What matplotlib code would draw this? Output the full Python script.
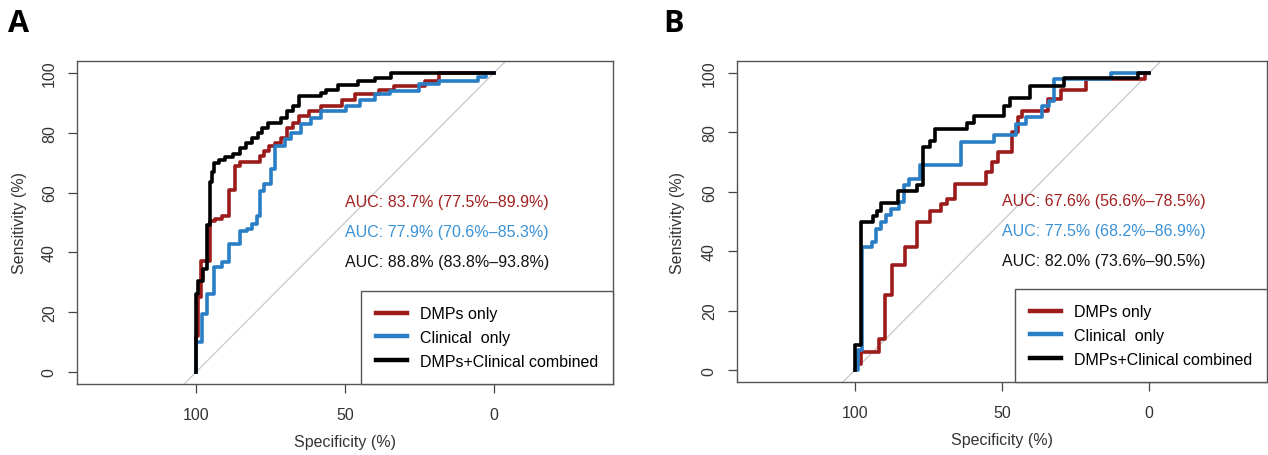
'''ROC curves: DMPs, clinical and combined models (panels A and B).'''
import matplotlib as mpl
mpl.use('Agg')
import matplotlib.pyplot as plt

plt.rcParams['font.family'] = ['Liberation Sans', 'DejaVu Sans']

labels = ['DMPs only', 'Clinical  only', 'DMPs+Clinical combined']
line_colors = ['#9c1b1b', '#2a7ec6', '#000000']
text_colors = ['#a32020', '#3a92d6', '#111111']

# panel A, specificity / sensitivity (%) at each step of the curve
a_dmp_spec = [100, 100, 99.2, 98.2, 95.3, 93.5, 91.3, 88.8, 86.8, 85.1, 78.4, 77.3,
              75.6, 73.6, 71.6, 69.6, 67.5, 65.4, 62, 57.9, 51, 46.8, 38.6, 33.5,
              23, 18.5, 0]
a_dmp_sens = [0, 12, 25, 37, 50.5, 51.2, 52.3, 61, 69, 70.2, 72.2, 73.9,
              75.6, 76.7, 78.3, 81.7, 83.3, 85.6, 87.2, 88.9, 91.1, 92.8, 94.4, 95.8,
              97.4, 100, 100]
a_cli_spec = [100, 100, 98, 96.3, 94, 91.3, 88.8, 85.1, 82.9, 81.2, 79.5, 78.6,
              77.3, 75, 73.6, 70.2, 68.2, 64.7, 61.3, 57.9, 49.6, 44.8, 40, 35,
              25, 18.5, 5.5, 2.8, 0]
a_cli_sens = [0, 10, 19.4, 26, 35, 36.7, 42.8, 47, 47.8, 49.5, 52.3, 60.6,
              62.9, 67.9, 75.7, 77.8, 80, 82.8, 85, 87.2, 88.9, 91.1, 92.8, 93.9,
              96.3, 97.4, 98.6, 100, 100]
a_comb_spec = [100, 100, 99.2, 97.8, 96.4, 95.3, 94.6, 93.9, 92.3, 90.2, 87.5, 85.4,
               83.3, 81.3, 79.2, 77.8, 75.8, 71.6, 69.6, 67.5, 65.4, 57.9, 56.5,
               52.3, 45.5, 39.9, 34.4, 0]
a_comb_sens = [0, 26, 30.5, 34.4, 49, 63.5, 67, 70, 71, 72, 73, 75,
               76.7, 78.3, 80, 81.7, 83.3, 85, 87.2, 88.9, 92.2, 93.3, 94.4,
               96.1, 97.2, 98.3, 100, 100]
a_auc = ['AUC: 83.7% (77.5%\u201389.9%)',
         'AUC: 77.9% (70.6%\u201385.3%)',
         'AUC: 88.8% (83.8%\u201393.8%)']

# panel B
b_dmp_spec = [100, 99.5, 97.9, 91.8, 89.7, 87.5, 83, 78.8, 74.3, 70.7, 68.7, 65.9,
              55.3, 53.5, 51.4, 46.6, 44.5, 43.2, 34.5, 30, 21.5, 1.4, 0]
b_dmp_sens = [0, 2.2, 6.2, 10.6, 25.2, 35.5, 41.4, 50, 53.5, 56, 57.7, 62.7,
              66.6, 70, 73.3, 80, 85.1, 87.3, 91.3, 94.1, 97.8, 100, 100]
b_cli_spec = [100, 99, 97.7, 94, 92.9, 91.2, 89.5, 87.8, 85, 83.3, 81.6, 77.7,
              64, 52.8, 45.2, 41.8, 36.3, 34.2, 32.2, 13, 0]
b_cli_sens = [0, 6.7, 41.4, 43.1, 47.6, 49.8, 52.1, 54.3, 56.6, 62.2, 64.4, 68.9,
              76.9, 79.2, 82.9, 85.1, 89, 90.5, 98, 100, 100]
b_comb_spec = [100, 100, 97.8, 93.8, 92.3, 91.2, 85.3, 78.8, 76.8, 74.6, 72.6, 61.9,
               59.5, 49.3, 47.3, 40.4, 29, 3.7, 0]
b_comb_sens = [0, 8.4, 50, 52, 53.5, 56.3, 60.2, 62.2, 75, 77, 81.2, 83,
               85.4, 89, 91.5, 95.5, 98.2, 100, 100]
b_auc = ['AUC: 67.6% (56.6%\u201378.5%)',
         'AUC: 77.5% (68.2%\u201386.9%)',
         'AUC: 82.0% (73.6%\u201390.5%)']

auc_y = [57, 47, 37]
ticks_x = [100, 50, 0]
ticks_y = [0, 20, 40, 60, 80, 100]


def roc_panel(ax, curves, auc_texts, ylab_x):
    '''Draw one ROC panel in the pROC style.'''
    ax.axline((100, 0), (0, 100), color='#c8c8c8', lw=0.9, zorder=1)
    for (spec, sens), col, lab in zip(curves, line_colors, labels):
        ax.plot(spec, sens, drawstyle='steps-post', color=col, lw=2.6,
                label=lab, zorder=3)
    for txt, y, col in zip(auc_texts, auc_y, text_colors):
        ax.text(50, y, txt, color=col, fontsize=11.5, ha='left', va='center')
    ax.set_xlim(140, -40)
    ax.set_ylim(-4, 104)
    ax.set_xticks(ticks_x)
    ax.set_yticks(ticks_y)
    ax.tick_params(length=6.5, width=0.9, color='#444444', labelcolor='#333333',
                   labelsize=11.5)
    ax.tick_params(axis='x', pad=10)
    ax.tick_params(axis='y', pad=8)
    for lbl in ax.get_yticklabels():
        lbl.set_rotation(90)
        lbl.set_va('center')
    for s in ax.spines.values():
        s.set_color('#555555')
        s.set_linewidth(1.0)
    ax.set_xlabel('Specificity (%)', fontsize=11.5, color='#333333')
    ax.set_ylabel('Sensitivity (%)', fontsize=11.5, color='#333333')
    ax.xaxis.set_label_coords(0.5, -0.155)
    ax.yaxis.set_label_coords(ylab_x, 0.5)
    leg = ax.legend(loc='lower right', bbox_to_anchor=(1, 0), borderaxespad=0,
                    fancybox=False, framealpha=1, edgecolor='#555555',
                    fontsize=11.5, handlelength=1.9, handletextpad=0.8,
                    labelspacing=0.55, borderpad=0.95)
    leg.get_frame().set_linewidth(1.0)
    for h in leg.get_lines():
        h.set_linewidth(3.2)


fig = plt.figure(figsize=(12.68, 4.56), dpi=100)
ax_a = fig.add_axes([77 / 1268, 71 / 456, 536 / 1268, 323 / 456])
ax_b = fig.add_axes([737 / 1268, 73 / 456, 530 / 1268, 321 / 456])

roc_panel(ax_a, [(a_dmp_spec, a_dmp_sens), (a_cli_spec, a_cli_sens),
                 (a_comb_spec, a_comb_sens)], a_auc, -0.093)
roc_panel(ax_b, [(b_dmp_spec, b_dmp_sens), (b_cli_spec, b_cli_sens),
                 (b_comb_spec, b_comb_sens)], b_auc, -0.098)

fig.text(8 / 1268, 1 - 32 / 456, 'A', fontsize=22, fontweight='bold',
         family=['Open Sans', 'DejaVu Sans'], va='baseline')
fig.text(663 / 1268, 1 - 32 / 456, 'B', fontsize=22, fontweight='bold',
         family=['Open Sans', 'DejaVu Sans'], va='baseline')

fig.savefig('out.png', dpi=100)
